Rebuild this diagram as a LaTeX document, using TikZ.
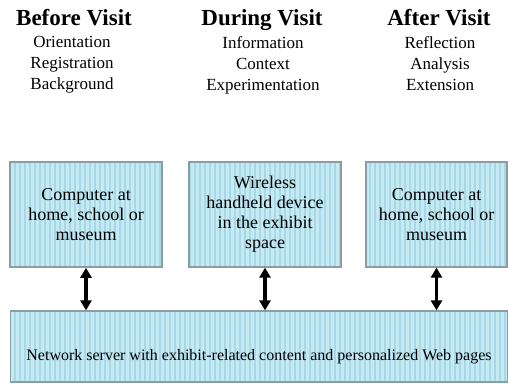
\documentclass[tikz,border=0pt]{standalone}
\usepackage{fontspec}
\setmainfont{Liberation Serif}
\usetikzlibrary{arrows.meta,patterns.meta}
\definecolor{boxfill}{HTML}{C4EAF3}
\definecolor{boxstripe}{HTML}{AAD7E5}
\definecolor{boxline}{HTML}{8A9EA2}

\begin{document}
\begin{tikzpicture}[x=1pt, y=-1pt,
  phase/.style={anchor=base, font=\fontsize{23}{28}\selectfont\bfseries},
  tasks/.style={anchor=north, align=center, font=\fontsize{17}{21}\selectfont},
  device/.style={draw=boxline, line width=1.2pt, preaction={fill=boxfill},
    pattern={Lines[angle=90,distance=5pt,line width=1.6pt]}, pattern color=boxstripe,
    align=center, inner sep=0pt, font=\fontsize{18}{20}\selectfont},
  link/.style={{Triangle[length=10pt,width=11pt]}-{Triangle[length=10pt,width=11pt]}, line width=3.2pt}
]
\useasboundingbox (0,0) rectangle (508,383);

\node[phase] (before) at (74,25) {Before Visit};
\node[phase] (during) at (262,25) {During Visit};
\node[phase] (after) at (439,25) {After Visit};
\node[tasks] (beforetasks) at (72,33) {Orientation\\Registration\\Background};
\node[tasks] (duringtasks) at (263,33) {Information\\Context\\Experimentation};
\node[tasks] (aftertasks) at (440,33) {Reflection\\Analysis\\Extension};

\node[device, minimum width=152pt, minimum height=105pt] (home) at (86,214.5) {Computer at\\home, school or\\museum};
\node[device, minimum width=152pt, minimum height=105pt] (handheld) at (265,214.5) {Wireless\\handheld device\\in the exhibit\\space};
\node[device, minimum width=141pt, minimum height=105pt] (school) at (436.5,214.5) {Computer at\\home, school or\\museum};
\node[device, minimum width=497pt, minimum height=71pt, font=\fontsize{16}{18}\selectfont,
  text height=31pt, text depth=4pt] (server) at (259,346.5) {Network server with exhibit-related content and personalized Web pages};

\draw[link] (home.south) -- (home.south |- server.north);
\draw[link] (handheld.south) -- (handheld.south |- server.north);
\draw[link] (school.south) -- (school.south |- server.north);
\end{tikzpicture}
\end{document}
